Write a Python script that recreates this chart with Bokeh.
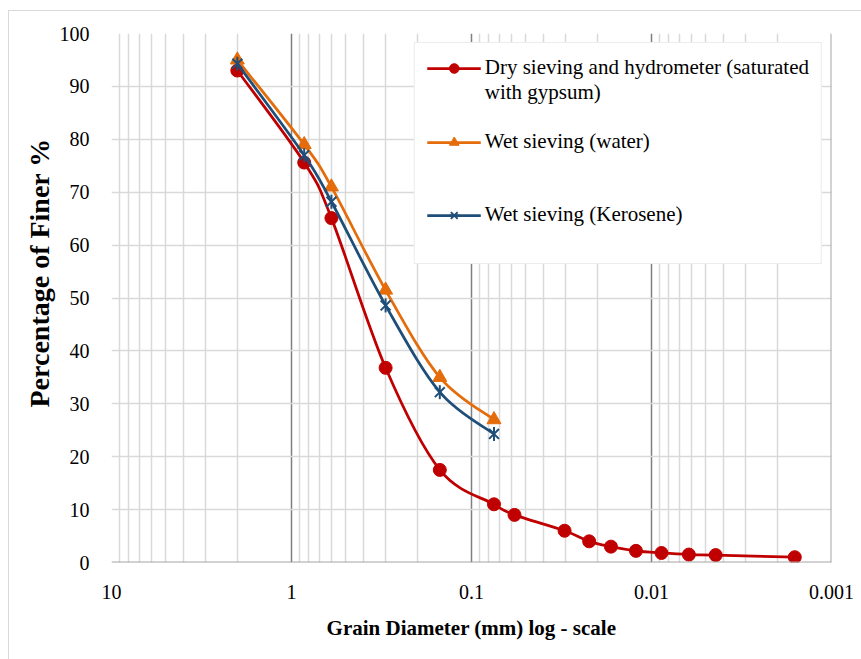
import numpy as np
from bokeh.plotting import figure
from bokeh.models import (Range1d, FixedTicker, PrintfTickFormatter, Legend, LegendItem,
                          Title, Span, ColumnDataSource, InlineStyleSheet)
from bokeh.embed import file_html
from bokeh.resources import INLINE

# Grain-size distribution: diameter (mm) vs percentage finer (%)
dry_d = [2.0, 0.85, 0.6, 0.3, 0.15, 0.075, 0.0577, 0.0304, 0.0222, 0.0168,
         0.0122, 0.0088, 0.0062, 0.0044, 0.0016]
dry_p = [93.0, 75.6, 65.1, 36.8, 17.5, 11.0, 9.0, 6.0, 4.0, 3.0,
         2.2, 1.8, 1.5, 1.4, 1.0]

wet_d = [2.0, 0.85, 0.6, 0.3, 0.15, 0.075]
water_p = [95.0, 79.0, 71.0, 51.5, 35.0, 27.0]
kerosene_p = [94.3, 77.0, 68.2, 48.6, 32.2, 24.3]

series_names = ["Dry sieving and hydrometer (saturated",
                "with gypsum)",
                "Wet sieving (water)",
                "Wet sieving (Kerosene)"]

x_ticks = [10, 1, 0.1, 0.01, 0.001]
y_ticks = list(range(0, 101, 10))

RED, ORANGE, BLUE = "#C00000", "#E46C0A", "#1F4E79"
SERIF = "'Liberation Serif'"


def smooth_segments(d, pct):
    """Cubic Bezier pieces (Catmull-Rom style) through the points, built in log-x space."""
    lx = np.log10(np.asarray(d, float))
    y = np.asarray(pct, float)
    n = len(lx)
    out = {k: [] for k in ("x0", "y0", "x1", "y1", "cx0", "cy0", "cx1", "cy1")}
    for i in range(n - 1):
        a, b = max(i - 1, 0), min(i + 2, n - 1)
        out["x0"].append(10 ** lx[i]); out["y0"].append(y[i])
        out["x1"].append(10 ** lx[i + 1]); out["y1"].append(y[i + 1])
        out["cx0"].append(10 ** (lx[i] + (lx[i + 1] - lx[a]) / 6))
        out["cy0"].append(y[i] + (y[i + 1] - y[a]) / 6)
        out["cx1"].append(10 ** (lx[i + 1] - (lx[b] - lx[i]) / 6))
        out["cy1"].append(y[i + 1] - (y[b] - y[i]) / 6)
    return ColumnDataSource(out)


p = figure(width=861, height=659, x_axis_type="log",
           x_range=Range1d(10, 0.001), y_range=Range1d(0, 100),
           output_backend="svg", toolbar_location=None,
           min_border_left=111, min_border_right=30,
           min_border_top=33, min_border_bottom=97)
p.outline_line_color = None
p.background_fill_color = "white"
p.border_fill_color = "white"

# thin chart-area border along the left and top edges
p.stylesheets = [InlineStyleSheet(css="""
:host { position: relative; }
:host::after {
  content: ""; position: absolute; left: 8px; top: 10px; right: -40px; bottom: -40px;
  border: 1.5px solid #d9d9d9; pointer-events: none; z-index: 5;
}
""")]

# axes
minor = [m * 10.0 ** k for k in range(-3, 1) for m in range(2, 10)]
p.xaxis.ticker = FixedTicker(ticks=x_ticks, minor_ticks=minor)
p.xaxis.formatter = PrintfTickFormatter(format="%g")
p.yaxis.ticker = FixedTicker(ticks=y_ticks)
for ax in (p.xaxis, p.yaxis):
    ax.axis_line_color = None
    ax.major_tick_line_color = None
    ax.minor_tick_line_color = None
    ax.major_label_text_font = SERIF
    ax.major_label_text_font_size = "20px"
    ax.major_label_text_color = "black"
    ax.major_label_standoff = 16

p.xaxis.axis_label = "Grain Diameter (mm) log - scale"
p.xaxis.axis_label_text_font = SERIF
p.xaxis.axis_label_text_font_style = "bold"
p.xaxis.axis_label_text_font_size = "21px"
p.xaxis.axis_label_text_color = "black"
p.xaxis.axis_label_standoff = 14

p.add_layout(Title(text="Percentage of Finer %", align="left", offset=155,
                   text_font=SERIF, text_font_style="bold",
                   text_font_size="28px", text_color="black", standoff=4), "left")

# grid: dark decade lines, light minor and horizontal lines
p.xgrid.ticker = FixedTicker(ticks=x_ticks[1:-1], minor_ticks=minor + [10])
p.xgrid.grid_line_color = "#7f7f7f"
p.xgrid.grid_line_width = 1.5
p.xgrid.minor_grid_line_color = "#d9d9d9"
p.xgrid.minor_grid_line_width = 1.5
p.ygrid.grid_line_color = "#d9d9d9"
p.ygrid.grid_line_width = 1.5

p.add_layout(Span(location=0, dimension="width", line_color="#a6a6a6", line_width=2))
p.add_layout(Span(location=0.001, dimension="height", line_color="#a6a6a6", line_width=2))

# series
r1 = p.bezier(x0="x0", y0="y0", x1="x1", y1="y1", cx0="cx0", cy0="cy0", cx1="cx1", cy1="cy1",
              source=smooth_segments(dry_d, dry_p), line_color=RED, line_width=2.75)
m1 = p.scatter(dry_d, dry_p, marker="circle", size=13, fill_color=RED, line_color=RED)

r2 = p.bezier(x0="x0", y0="y0", x1="x1", y1="y1", cx0="cx0", cy0="cy0", cx1="cx1", cy1="cy1",
              source=smooth_segments(wet_d, water_p), line_color=ORANGE, line_width=2.75)
m2 = p.scatter(wet_d, water_p, marker="triangle", size=14, fill_color=ORANGE, line_color=ORANGE)

r3 = p.bezier(x0="x0", y0="y0", x1="x1", y1="y1", cx0="cx0", cy0="cy0", cx1="cx1", cy1="cy1",
              source=smooth_segments(wet_d, kerosene_p), line_color=BLUE, line_width=2.75)
m3 = p.scatter(wet_d, kerosene_p, marker="x", size=14, line_color=BLUE, line_width=2)
m3b = p.scatter(wet_d, kerosene_p, marker="dash", angle=np.pi / 2, size=14,
                line_color=BLUE, line_width=2)

# legend rows on an even pitch; blank rows keep the entries spaced apart
items = [
    LegendItem(label=series_names[0], renderers=[r1, m1]),
    LegendItem(label=series_names[1], renderers=[]),
    LegendItem(label=" ", renderers=[]),
    LegendItem(label=series_names[2], renderers=[r2, m2]),
    LegendItem(label=" ", renderers=[]),
    LegendItem(label=" ", renderers=[]),
    LegendItem(label=series_names[3], renderers=[r3, m3, m3b]),
    LegendItem(label=" ", renderers=[]),
]

legend = Legend(items=items, location="top_right", margin=9, padding=12,
                spacing=0, label_height=24, glyph_height=24, glyph_width=54,
                label_standoff=4, label_text_font=SERIF, label_text_font_size="21px",
                label_text_color="black",
                border_line_color="#d9d9d9", border_line_width=1.5,
                background_fill_color="white", background_fill_alpha=1)
p.add_layout(legend, "center")

open("out.html", "w").write(file_html(p, INLINE))
